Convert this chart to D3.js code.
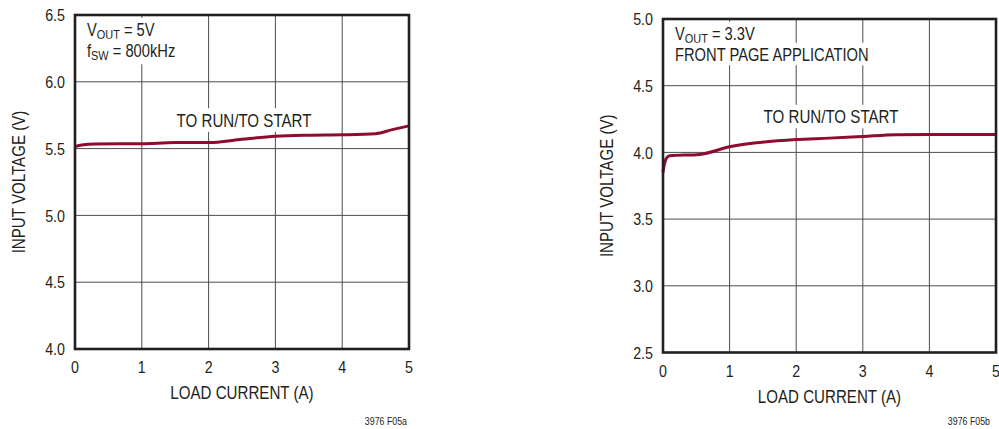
<!DOCTYPE html>
<head>
<meta http-equiv="Content-type" content="text/html;charset=UTF-8">
</head>
<style>
body { margin: 0; background: #fff; }
svg text { font-family: "Liberation Sans Narrow", "Arial Narrow", "Liberation Sans", sans-serif; fill: #231f20; }
</style>
<svg width="999" height="429"></svg>
<script src="https://d3js.org/d3.v7.min.js"></script>
<script>

// data
var xTicks = [0, 1, 2, 3, 4, 5];
var leftYTicks = [4.0, 4.5, 5.0, 5.5, 6.0, 6.5];
var rightYTicks = [2.5, 3.0, 3.5, 4.0, 4.5, 5.0];

var leftCurrent = [0, 0.1, 0.3, 1.0, 1.5, 2.0, 2.5, 3.0, 3.5, 4.0, 4.5, 4.75, 5.0];
var leftVin = [5.515, 5.527, 5.535, 5.537, 5.545, 5.545, 5.57, 5.592, 5.600, 5.603, 5.612, 5.642, 5.67];

var rightCurrent = [0, 0.02, 0.05, 0.1, 0.55, 1.0, 1.4, 2.0, 2.5, 3.0, 3.5, 4.0, 5.0];
var rightVin = [3.85, 3.91, 3.955, 3.975, 3.985, 4.042, 4.072, 4.097, 4.107, 4.12, 4.133, 4.135, 4.135];

var svg = d3.select("svg");
var curveColor = "#8e0c2f";
var narrow = 0.84; // no condensed face installed, squeeze the glyphs instead

// text squeezed horizontally, placed at (x,y)
function label(parent, x, y, size, anchor, rot) {
  return parent.append("g")
      .attr("transform", "translate(" + x + "," + y + ")" + (rot ? " rotate(" + rot + ")" : "") + " scale(" + narrow + ",1)")
    .append("text")
      .attr("font-size", size)
      .attr("text-anchor", anchor || "start");
}

function panel(opt) {
  var x = d3.scaleLinear().domain([0, 5]).range([opt.left, opt.right]);
  var y = d3.scaleLinear().domain(opt.yDomain).range([opt.bottom, opt.top]);
  var g = svg.append("g");

  // grid
  g.append("g").selectAll("line")
    .data(xTicks.slice(1, -1))
    .enter().append("line")
      .attr("x1", function(d) { return x(d); })
      .attr("x2", function(d) { return x(d); })
      .attr("y1", opt.top).attr("y2", opt.bottom)
      .attr("stroke", "#4d4d4f").attr("stroke-width", 1);
  g.append("g").selectAll("line")
    .data(opt.yTicks.slice(1, -1))
    .enter().append("line")
      .attr("y1", function(d) { return y(d); })
      .attr("y2", function(d) { return y(d); })
      .attr("x1", opt.left).attr("x2", opt.right)
      .attr("stroke", "#4d4d4f").attr("stroke-width", 1);

  // tick labels
  var yl = g.append("g");
  opt.yTicks.forEach(function(d) {
    label(yl, opt.left - 10, y(d), 17, "end").attr("dy", "0.36em").text(d.toFixed(1));
  });
  var xl = g.append("g");
  xTicks.forEach(function(d) {
    label(xl, x(d), opt.bottom + 24, 17, "middle").text(d);
  });

  // axis titles
  label(g, (opt.left + opt.right) / 2, opt.bottom + 50, 18, "middle").text("LOAD CURRENT (A)");
  label(g, opt.yTitleX, (opt.top + opt.bottom) / 2, 18, "middle", -90)
    .attr("dy", "0.35em")
    .text("INPUT VOLTAGE (V)");

  // annotations, white box behind each so the grid is masked
  var notes = g.append("g");
  var t1 = label(notes, opt.left + 12, opt.top + 21, 17.5);
  t1.append("tspan").text("V");
  t1.append("tspan").attr("dy", 3).attr("font-size", 13).text("OUT");
  t1.append("tspan").attr("dy", -3).text(" = " + opt.vout);
  var t2 = label(notes, opt.left + 12, opt.top + 42, 17.5);
  if (opt.fsw) {
    t2.append("tspan").text("f");
    t2.append("tspan").attr("dy", 3).attr("font-size", 13).text("SW");
    t2.append("tspan").attr("dy", -3).text(" = " + opt.fsw);
  } else {
    t2.text(opt.line2);
  }
  var t3 = label(notes, opt.runX, opt.runY, 18, "middle").text("TO RUN/TO START");
  [t1, t2, t3].forEach(function(t) {
    var b = t.node().getBBox();
    d3.select(t.node().parentNode).insert("rect", "text")
      .attr("x", b.x - 4).attr("y", b.y - 2)
      .attr("width", b.width + 8).attr("height", b.height + 3)
      .attr("fill", "#fff");
  });

  // curve
  var pts = opt.xs.map(function(d, i) { return [d, opt.ys[i]]; });
  g.append("path")
    .datum(pts)
    .attr("fill", "none")
    .attr("stroke", curveColor)
    .attr("stroke-width", 3)
    .attr("stroke-linejoin", "round")
    .attr("d", d3.line()
      .x(function(d) { return x(d[0]); })
      .y(function(d) { return y(d[1]); })
      .curve(d3.curveMonotoneX));

  // frame
  g.append("rect")
    .attr("x", opt.left).attr("y", opt.top)
    .attr("width", opt.right - opt.left).attr("height", opt.bottom - opt.top)
    .attr("fill", "none").attr("stroke", "#231f20").attr("stroke-width", 2.6);

  label(g, opt.noteX, 425, 10.5, "end").text(opt.fig);
}

panel({
  left: 75, right: 409, top: 15, bottom: 349,
  yDomain: [4.0, 6.5], yTicks: leftYTicks,
  xs: leftCurrent, ys: leftVin,
  yTitleX: 19, vout: "5V", fsw: "800kHz",
  runX: 244, runY: 126.5, noteX: 407, fig: "3976 F05a"
});

panel({
  left: 663, right: 996, top: 19, bottom: 352.5,
  yDomain: [2.5, 5.0], yTicks: rightYTicks,
  xs: rightCurrent, ys: rightVin,
  yTitleX: 607, vout: "3.3V", line2: "FRONT PAGE APPLICATION",
  runX: 831, runY: 123, noteX: 990, fig: "3976 F05b"
});

</script>
